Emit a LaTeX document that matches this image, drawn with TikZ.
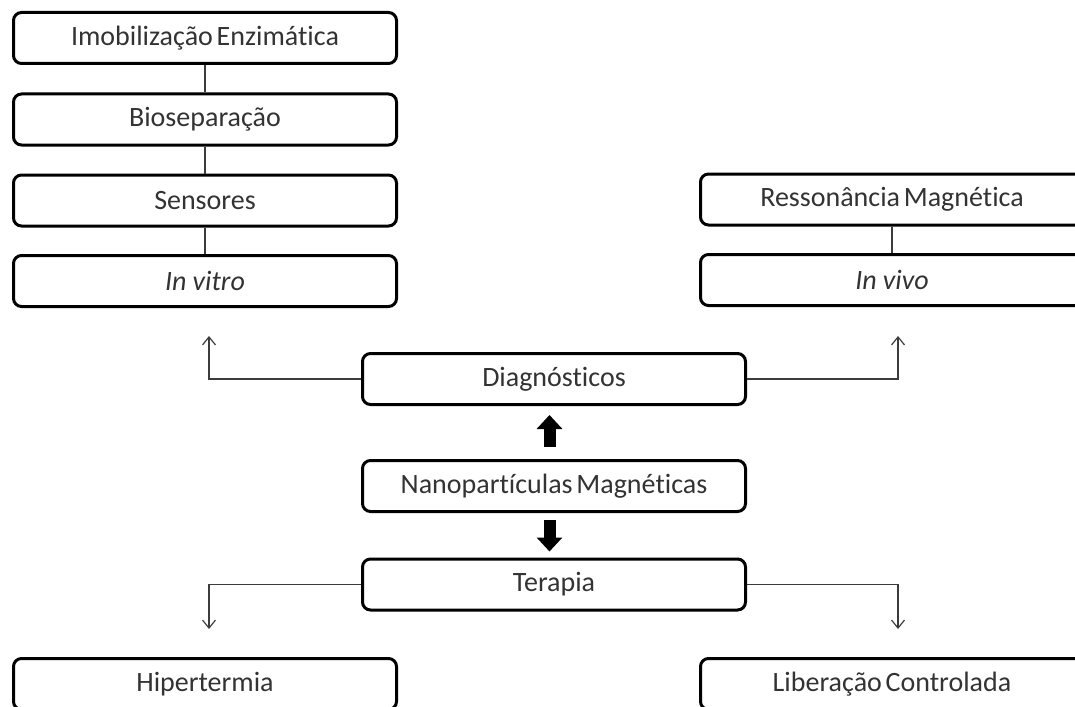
\documentclass[tikz,border=0pt]{standalone}
\usepackage{fontspec}
\setmainfont{Carlito}[Ligatures=NoCommon, WordSpace=0.6]
\usetikzlibrary{arrows.meta}
\definecolor{txt}{HTML}{333333}
\definecolor{ln}{HTML}{3C3C3C}
\tikzset{
  box/.style={draw=black, line width=3pt, rounded corners=8pt, fill=white,
    minimum width=383pt, minimum height=51pt, inner sep=0pt,
    text=txt, font=\fontsize{28}{32}\selectfont},
  link/.style={draw=ln, line width=1.2pt},
  thinarrow/.style={draw=ln, line width=1.2pt, -{Straight Barb[length=8pt,width=13pt]}},
  bigarrow/.style={draw=black, line width=12pt, -{Triangle[length=14pt,width=25pt]}}
}
\begin{document}
\begin{tikzpicture}[x=1pt,y=-1pt]
\useasboundingbox (0,0) rectangle (1075,706);
\clip (0,0) rectangle (1075,706);
\fill[white] (0,0) rectangle (1075,706);
% left column
\node[box] (imob) at (205,38) {Imobilização Enzimática};
\node[box] (bio) at (205,119.5) {Bioseparação};
\node[box] (sens) at (205,200.5) {Sensores};
\node[box] (vitro) at (205,281) {\itshape In\hspace{0.22em}vitro};
% right column
\node[box] (res) at (892,199.5) {Ressonância Magnética};
\node[box] (vivo) at (892,280) {\itshape In\hspace{0.22em}vivo};
% centre
\node[box] (diag) at (554,379) {Diagnósticos};
\node[box] (nano) at (554,486) {Nanopartículas Magnéticas};
\node[box] (ter) at (554,584.5) {Terapia};
% bottom
\node[box] (hip) at (205,684) {Hipertermia};
\node[box] (lib) at (892,684) {Liberação Controlada};
% vertical links
\draw[link] (imob) -- (bio);
\draw[link] (bio) -- (sens);
\draw[link] (sens) -- (vitro);
\draw[link] (res) -- (vivo);
% coordinates for free arrow ends
\coordinate (dl) at (209,336);
\coordinate (dr) at (898,336);
\coordinate (tl) at (209,629);
\coordinate (tr) at (898,629);
\draw[thinarrow] (diag.west) -| (dl);
\draw[thinarrow] (diag.east) -| (dr);
\draw[thinarrow] (ter.west) -| (tl);
\draw[thinarrow] (ter.east) -| (tr);
% big arrows
\draw[bigarrow, shorten <=12pt, shorten >=9pt] ([xshift=-4.5pt]nano.north) -- ([xshift=-4.5pt]diag.south);
\draw[bigarrow, shorten <=7pt, shorten >=6pt] ([xshift=-4.5pt]nano.south) -- ([xshift=-4.5pt]ter.north);
\end{tikzpicture}
\end{document}
